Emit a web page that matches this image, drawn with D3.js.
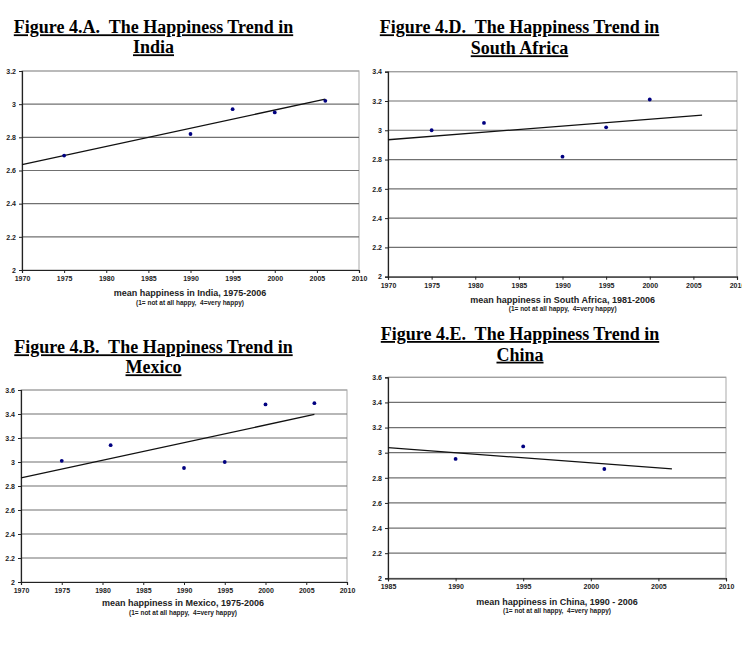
<!DOCTYPE html>
<html>
<head>
<meta charset="utf-8">
<script src="https://cdn.jsdelivr.net/npm/d3@7"></script>
<style>
  body { margin: 0; background: #fff; }
  svg { display: block; }
  .title { font-family: "Liberation Serif", "Times New Roman", serif; font-weight: bold; font-size: 18px; text-decoration: underline; white-space: pre; }
  .axis text { font-family: "Liberation Sans", Arial, sans-serif; font-weight: bold; font-size: 7px; fill: #222; }
  .xtitle { font-family: "Liberation Sans", Arial, sans-serif; font-weight: bold; font-size: 9px; fill: #222; }
  .note { font-family: "Liberation Sans", Arial, sans-serif; font-weight: bold; font-size: 6.5px; fill: #222; white-space: pre; }
</style>
</head>
<body>
<div id="chart"></div>
<script>
// India
const indiaYears = [1975, 1990, 1995, 2000, 2006];
const indiaValues = [2.69, 2.82, 2.97, 2.95, 3.02];
// South Africa
const saYears = [1975, 1981, 1990, 1995, 2000];
const saValues = [3.0, 3.05, 2.82, 3.02, 3.21];
// Mexico
const mexicoYears = [1975, 1981, 1990, 1995, 2000, 2006];
const mexicoValues = [3.01, 3.14, 2.95, 3.0, 3.48, 3.49];
// China
const chinaYears = [1990, 1995, 2001];
const chinaValues = [2.95, 3.05, 2.87];

// Axis ticks
const xTicks7010 = [1970, 1975, 1980, 1985, 1990, 1995, 2000, 2005, 2010];
const xTicks8510 = [1985, 1990, 1995, 2000, 2005, 2010];
const yTicks32 = [2, 2.2, 2.4, 2.6, 2.8, 3, 3.2];
const yTicks34 = [2, 2.2, 2.4, 2.6, 2.8, 3, 3.2, 3.4];
const yTicks36 = [2, 2.2, 2.4, 2.6, 2.8, 3, 3.2, 3.4, 3.6];

const trendEnd = 2006;
const note = "(1= not at all happy,  4=very happy)";

const WIDTH = 742;
const HEIGHT = 645;

const svg = d3.select("#chart")
  .append("svg")
  .attr("width", WIDTH)
  .attr("height", HEIGHT);

const panels = [
  {
    title: ["Figure 4.A.  The Happiness Trend in", "India"],
    titleX: 153.5, titleY: [33.3, 53.3],
    years: indiaYears, values: indiaValues,
    xTicks: xTicks7010, yTicks: yTicks32,
    box: { l: 22, r: 359, t: 71, b: 270 },
    xTitle: "mean happiness in India, 1975-2006",
    xTitleX: 190, xTitleY: 296.3, noteY: 304.5
  },
  {
    title: ["Figure 4.D.  The Happiness Trend in", "South Africa"],
    titleX: 519.5, titleY: [33.3, 54.3],
    years: saYears, values: saValues,
    xTicks: xTicks7010, yTicks: yTicks34,
    box: { l: 388, r: 737, t: 71.7, b: 276.7 },
    xTitle: "mean happiness in South Africa, 1981-2006",
    xTitleX: 562.7, xTitleY: 302.5, noteY: 311
  },
  {
    title: ["Figure 4.B.  The Happiness Trend in", "Mexico"],
    titleX: 153.5, titleY: [353.3, 373.3],
    years: mexicoYears, values: mexicoValues,
    xTicks: xTicks7010, yTicks: yTicks36,
    box: { l: 21, r: 347, t: 390, b: 582 },
    xTitle: "mean happiness in Mexico, 1975-2006",
    xTitleX: 183, xTitleY: 606, noteY: 614.5
  },
  {
    title: ["Figure 4.E.  The Happiness Trend in", "China"],
    titleX: 520, titleY: [340, 360.7],
    years: chinaYears, values: chinaValues,
    xTicks: xTicks8510, yTicks: yTicks36,
    box: { l: 388, r: 726, t: 377.3, b: 578.3 },
    xTitle: "mean happiness in China, 1990 - 2006",
    xTitleX: 557, xTitleY: 604.5, noteY: 613
  }
];

// least squares fit, same as the spreadsheet trendline
function fitLine(xs, ys) {
  const mx = d3.mean(xs);
  const my = d3.mean(ys);
  let sxy = 0, sxx = 0;
  xs.forEach((x, i) => {
    sxy += (x - mx) * (ys[i] - my);
    sxx += (x - mx) * (x - mx);
  });
  const slope = sxy / sxx;
  return (x) => my + slope * (x - mx);
}

panels.forEach((p) => {
  const g = svg.append("g");
  const b = p.box;

  // title, two lines
  p.title.forEach((line, i) => {
    g.append("text")
      .attr("class", "title")
      .attr("x", p.titleX)
      .attr("y", p.titleY[i])
      .attr("text-anchor", "middle")
      .text(line);
  });

  const x = d3.scaleLinear()
    .domain(d3.extent(p.xTicks))
    .range([b.l, b.r]);
  const y = d3.scaleLinear()
    .domain(d3.extent(p.yTicks))
    .range([b.b, b.t]);

  // plot border
  g.append("rect")
    .attr("x", b.l)
    .attr("y", b.t)
    .attr("width", b.r - b.l)
    .attr("height", b.b - b.t)
    .attr("fill", "none")
    .attr("stroke", "#b8b8b8")
    .attr("stroke-width", 1.2);

  // gridlines
  g.selectAll("line.grid")
    .data(p.yTicks.slice(1))
    .enter()
    .append("line")
    .attr("class", "grid")
    .attr("x1", b.l)
    .attr("x2", b.r)
    .attr("y1", (d) => y(d))
    .attr("y2", (d) => y(d))
    .attr("stroke", (d, i) => i === p.yTicks.length - 2 ? "#a0a0a0" : "#707070")
    .attr("stroke-width", 1.2);

  // axes
  g.append("g")
    .attr("class", "axis")
    .attr("transform", `translate(0, ${b.b})`)
    .call(d3.axisBottom(x).tickValues(p.xTicks).tickFormat(d3.format("d")).tickSize(3).tickPadding(3))
    .call((a) => a.select(".domain").attr("stroke", "#222").attr("stroke-width", 1.2));

  g.append("g")
    .attr("class", "axis")
    .attr("transform", `translate(${b.l}, 0)`)
    .call(d3.axisLeft(y).tickValues(p.yTicks).tickFormat(d3.format("~g")).tickSize(3).tickPadding(3))
    .call((a) => a.select(".domain").attr("stroke", "#222").attr("stroke-width", 1.2));

  g.selectAll(".axis .tick line").attr("stroke", "#222");
  g.selectAll(".axis text").attr("stroke", "none");

  // trend line from axis start to 2006
  const fit = fitLine(p.years, p.values);
  const x0 = x.domain()[0];
  g.append("line")
    .attr("x1", x(x0))
    .attr("y1", y(fit(x0)))
    .attr("x2", x(trendEnd))
    .attr("y2", y(fit(trendEnd)))
    .attr("stroke", "#111")
    .attr("stroke-width", 1.3);

  // points
  g.selectAll("circle")
    .data(p.years)
    .enter()
    .append("circle")
    .attr("cx", (d) => x(d))
    .attr("cy", (d, i) => y(p.values[i]))
    .attr("r", 1.9)
    .attr("fill", "#000080");

  // axis titles
  g.append("text")
    .attr("class", "xtitle")
    .attr("x", p.xTitleX)
    .attr("y", p.xTitleY)
    .attr("text-anchor", "middle")
    .text(p.xTitle);

  g.append("text")
    .attr("class", "note")
    .attr("x", p.xTitleX)
    .attr("y", p.noteY)
    .attr("text-anchor", "middle")
    .text(note);
});
</script>
</body>
</html>
